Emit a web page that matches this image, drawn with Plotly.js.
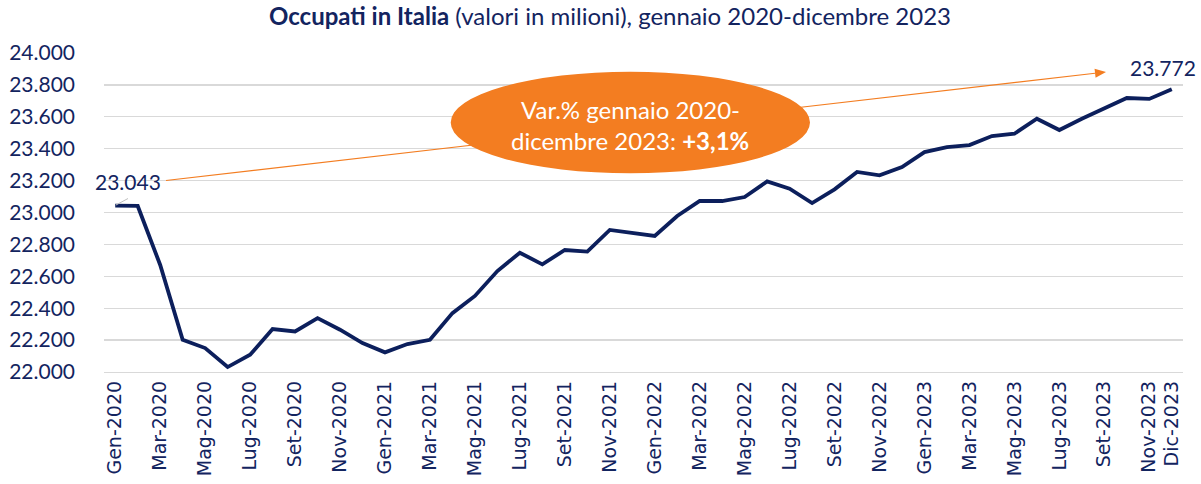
<!DOCTYPE html>
<html>
<head>
<meta charset="utf-8">
<script src="https://cdn.plot.ly/plotly-3.0.1.min.js"></script>
<style>html,body{margin:0;padding:0;background:#fff;}#chart{width:1201px;height:484px;}</style>
</head>
<body>
<div id="chart"></div>
<script>
// ---- data (occupati, migliaia) ----
var months = ['Gen','Feb','Mar','Apr','Mag','Giu','Lug','Ago','Set','Ott','Nov','Dic'];
var years = [2020, 2021, 2022, 2023];
var categories = [];
years.forEach(function(y){ months.forEach(function(m){ categories.push(m + '-' + y); }); });

var occupati = [
  23043, 23041, 22671, 22202, 22150, 22031, 22108, 22269, 22254, 22338, 22265, 22181,
  22123, 22175, 22202, 22369, 22477, 22633, 22748, 22675, 22765, 22755, 22891, 22870,
  22853, 22978, 23072, 23072, 23097, 23195, 23149, 23059, 23145, 23254, 23233, 23285,
  23379, 23410, 23423, 23479, 23494, 23588, 23517, 23588, 23655, 23718, 23712, 23772
];

var tickLabels = categories.filter(function(c, i){ return i % 2 === 0; }).concat(['Dic-2023']);
var yTicks = [22000, 22200, 22400, 22600, 22800, 23000, 23200, 23400, 23600, 23800, 24000];

var titleBold = 'Occupati in Italia';
var titleRest = ' (valori in milioni), gennaio 2020-dicembre 2023';
var calloutLine1 = 'Var.% gennaio 2020-';
var calloutLine2 = 'dicembre 2023: ';
var calloutValue = '+3,1%';

// ---- layout helpers (pixel -> paper) ----
var W = 1201, H = 484;
var M = {l: 104, r: 18, t: 53, b: 112};
var PW = W - M.l - M.r, PH = H - M.t - M.b;
function px(x){ return (x - M.l) / PW; }
function py(y){ return (H - M.b - y) / PH; }

var navy = '#13245f';
var lineNavy = '#0c1f5c';
var orange = '#f37d21';

function fmt(v){ return String(v).replace(/\B(?=(\d{3})+(?!\d))/g, '.'); }

// arrow geometry (pixels)
var a0 = [166, 180.5], tip = [1106, 72];
var dx = tip[0]-a0[0], dy = tip[1]-a0[1], L = Math.sqrt(dx*dx+dy*dy);
var ux = dx/L, uy = dy/L, hl = 11, hw = 4.5;
var base = [tip[0]-hl*ux, tip[1]-hl*uy];
var p1 = [base[0]-hw*uy, base[1]+hw*ux], p2 = [base[0]+hw*uy, base[1]-hw*ux];

var trace = {
  x: categories,
  y: occupati,
  type: 'scatter',
  mode: 'lines',
  line: {color: lineNavy, width: 3.8},
  hoverinfo: 'x+y'
};

var layout = {
  width: W, height: H,
  margin: M,
  paper_bgcolor: '#fff', plot_bgcolor: '#fff',
  showlegend: false,
  separators: ',.',
  font: {family: 'Lato, sans-serif', color: navy},
  title: {
    text: '<b>' + titleBold + '</b>' + titleRest,
    font: {family: 'Lato, sans-serif', size: 24, color: navy},
    x: 610 / W, xref: 'container', xanchor: 'center',
    y: 1 - 17 / H, yref: 'container', yanchor: 'middle'
  },
  xaxis: {
    type: 'category',
    range: [-0.5, categories.length - 0.5],
    tickmode: 'array',
    tickvals: tickLabels,
    ticktext: tickLabels,
    tickangle: -90,
    tickfont: {family: 'DejaVu Sans, sans-serif', size: 19, color: navy},
    showgrid: false,
    showline: true, linecolor: '#d9d9d9', linewidth: 1.3,
    ticks: '', zeroline: false, fixedrange: true
  },
  yaxis: {
    range: [22000, 24000],
    tickmode: 'array',
    tickvals: yTicks,
    ticktext: yTicks.map(fmt),
    tickfont: {family: 'Lato, sans-serif', size: 21, color: navy},
    showgrid: true, gridcolor: '#d9d9d9', gridwidth: 1.3,
    zeroline: false, showline: false, ticks: '',
    ticklabelstandoff: 28, fixedrange: true
  },
  shapes: [
    {type: 'line', xref: 'paper', yref: 'paper', layer: 'above',
     x0: px(a0[0]), y0: py(a0[1]), x1: px(base[0]), y1: py(base[1]),
     line: {color: orange, width: 1.1}},
    {type: 'path', xref: 'paper', yref: 'paper', layer: 'above',
     path: 'M' + px(tip[0]) + ',' + py(tip[1]) + ' L' + px(p1[0]) + ',' + py(p1[1]) + ' L' + px(p2[0]) + ',' + py(p2[1]) + ' Z',
     fillcolor: orange, line: {width: 0}},
    {type: 'circle', xref: 'paper', yref: 'paper', layer: 'above',
     x0: px(450.7), x1: px(810), y0: py(173.3), y1: py(71.7),
     fillcolor: orange, line: {width: 0}},
    {type: 'line', xref: 'paper', yref: 'paper', layer: 'above',
     x0: px(116), y0: py(205), x1: px(128), y1: py(198.5),
     line: {color: '#bfbfbf', width: 1}}
  ],
  annotations: [
    {xref: 'paper', yref: 'paper', x: px(630), y: py(109), xanchor: 'center', yanchor: 'middle',
     text: calloutLine1,
     showarrow: false, align: 'center',
     font: {family: 'Lato, sans-serif', size: 24, color: '#ffffff'}},
    {xref: 'paper', yref: 'paper', x: px(630), y: py(140), xanchor: 'center', yanchor: 'middle',
     text: calloutLine2 + '<b>' + calloutValue + '</b>',
     showarrow: false, align: 'center',
     font: {family: 'Lato, sans-serif', size: 24, color: '#ffffff'}},
    {xref: 'x', yref: 'paper', x: categories[0], xshift: 13, y: py(181), yanchor: 'middle', xanchor: 'center',
     text: fmt(occupati[0]), showarrow: false,
     font: {family: 'Lato, sans-serif', size: 21, color: navy}},
    {xref: 'x', yref: 'paper', x: categories[categories.length - 1], xshift: -9, y: py(67), yanchor: 'middle', xanchor: 'center',
     text: fmt(occupati[occupati.length - 1]), showarrow: false,
     font: {family: 'Lato, sans-serif', size: 21, color: navy}}
  ]
};

Plotly.newPlot('chart', [trace], layout, {displayModeBar: false, staticPlot: true});
</script>
</body>
</html>
